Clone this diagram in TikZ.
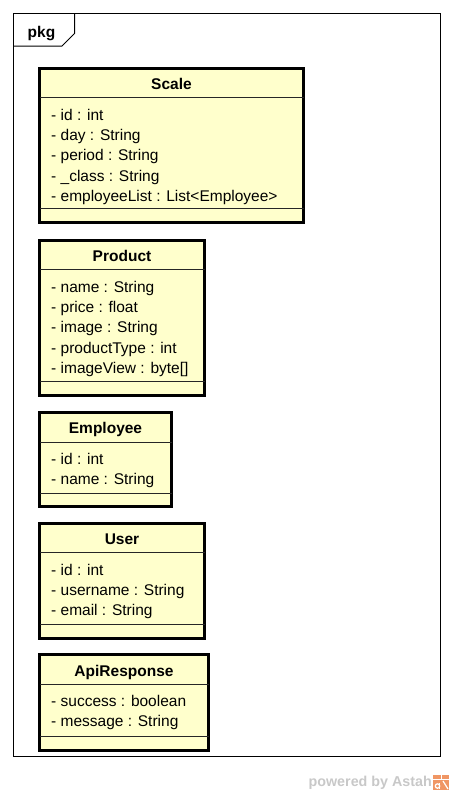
\documentclass[tikz,border=0pt]{standalone}
\usepackage{fontspec}
\usepackage{tikz}
\setmainfont{Liberation Sans}
\definecolor{classfill}{RGB}{255,255,204}
\definecolor{astahgray}{RGB}{200,200,200}
\definecolor{astahorange}{RGB}{240,150,100}
\tikzset{
  classbox/.style={draw=black, line width=3pt, fill=classfill},
  compline/.style={draw=black!85, line width=0.9pt},
  ctitle/.style={anchor=base, inner sep=0pt, font=\bfseries\fontsize{15.5}{18}\selectfont},
  attr/.style={anchor=base west, inner sep=0pt, font=\fontsize{15.5}{18}\selectfont},
}

\begin{document}
\begin{tikzpicture}[x=1pt,y=-1pt]
				\useasboundingbox (0,0) rectangle (453,796);
				% package frame
				\draw [line width=1pt] (13.5,13.5) rectangle (440.5,756.5);
				\draw [line width=1pt] (13.5,46)-- (62,46)-- (74.5,33.5)-- (74.5,13.5);
				\node (pkg) [anchor=base, inner sep=0pt, font=\bfseries\fontsize{15.5}{18}\selectfont] at (41.5,37.5) {pkg};
				% Scale
				\draw [classbox] (39.5,68.5) rectangle (303.5,222.5);
				\draw [compline] (39.5,97)-- (303.5,97);
				\draw [compline] (39.5,208)-- (303.5,208);
				\node (scale) [ctitle] at (171.5,89) {Scale};
				\node (scale-id) [attr] at (51,120) {- id : int};
				\node (scale-day) [attr] at (51,140.3) {- day : String};
				\node (scale-period) [attr] at (51,160.6) {- period : String};
				\node (scale-class) [attr] at (51,181) {- \_class : String};
				\node (scale-list) [attr] at (51,201.3) {- employeeList : List<Employee>};
				% Product
				\draw [classbox] (39.5,240) rectangle (204.5,395);
				\draw [compline] (39.5,269)-- (204.5,269);
				\draw [compline] (39.5,381)-- (204.5,381);
				\node (product) [ctitle] at (122,261) {Product};
				\node (product-name) [attr] at (51,292) {- name : String};
				\node (product-price) [attr] at (51,312.3) {- price : float};
				\node (product-image) [attr] at (51,332.6) {- image : String};
				\node (product-type) [attr] at (51,353) {- productType : int};
				\node (product-view) [attr] at (51,373.3) {- imageView : byte[]};
				% Employee
				\draw [classbox] (39.5,412) rectangle (171.5,506);
				\draw [compline] (39.5,442)-- (171.5,442);
				\draw [compline] (39.5,493)-- (171.5,493);
				\node (employee) [ctitle] at (105.5,433) {Employee};
				\node (employee-id) [attr] at (51,464) {- id : int};
				\node (employee-name) [attr] at (51,484.3) {- name : String};
				% User
				\draw [classbox] (39.5,523) rectangle (204.5,638);
				\draw [compline] (39.5,552)-- (204.5,552);
				\draw [compline] (39.5,624)-- (204.5,624);
				\node (user) [ctitle] at (122,544) {User};
				\node (user-id) [attr] at (51,575) {- id : int};
				\node (user-username) [attr] at (51,595.4) {- username : String};
				\node (user-email) [attr] at (51,615.8) {- email : String};
				% ApiResponse
				\draw [classbox] (39.5,654) rectangle (208.5,750);
				\draw [compline] (39.5,684)-- (208.5,684);
				\draw [compline] (39.5,736)-- (208.5,736);
				\node (apiresponse) [ctitle] at (124,676) {ApiResponse};
				\node (api-success) [attr] at (51,706) {- success : boolean};
				\node (api-message) [attr] at (51,726.3) {- message : String};
				% watermark
				\node (powered) [anchor=base east, inner sep=0pt, text=astahgray, font=\bfseries\fontsize{14.3}{16}\selectfont] at (432,786) {powered by Astah};
				\fill [astahorange] (433,775) rectangle (449,790);
				\draw [white, line width=1pt] (433,779)-- (449,779);
				\draw [white, line width=1pt] (441,775)-- (441,779);
				\draw [white, line width=1.2pt] (437.5,786) circle (2.2);
				\draw [white, line width=1.2pt] (439.7,783)-- (439.7,789);
				\draw [white, line width=1.2pt] (443,781)-- (448,789);
				\end{tikzpicture}
\end{document}
